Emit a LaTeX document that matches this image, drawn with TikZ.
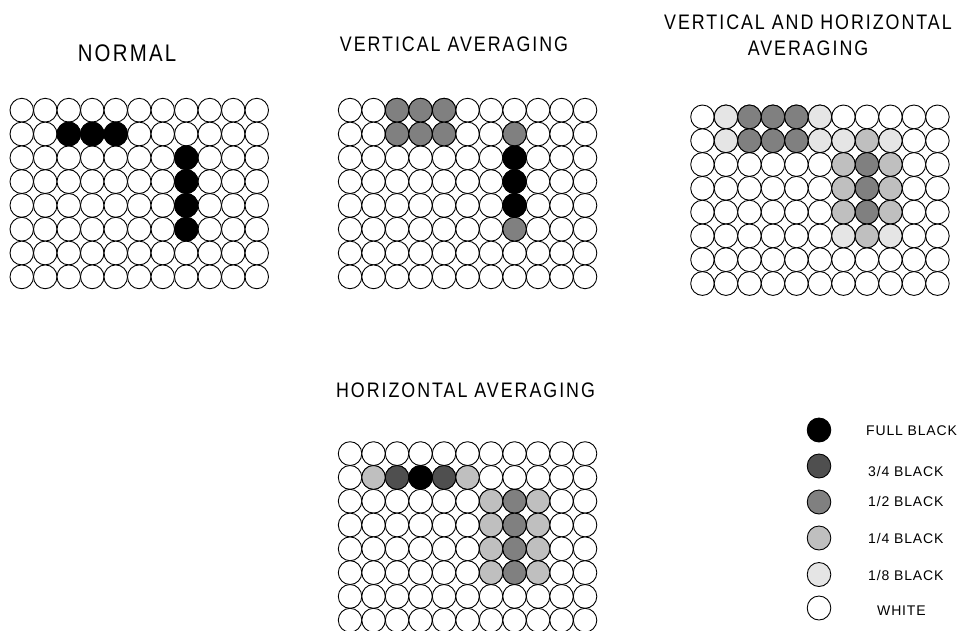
\documentclass[tikz,border=0pt]{standalone}
\usepackage{graphicx}
\usepackage{fontspec}
\setmainfont{Liberation Sans}
\newfontfamily\ttlfont[LetterSpace=11]{Liberation Sans}
\newfontfamily\lgdfont[LetterSpace=6]{Liberation Sans}
\definecolor{bfull}{gray}{0}
\definecolor{bthree}{gray}{0.31}
\definecolor{bhalf}{gray}{0.5}
\definecolor{bquart}{gray}{0.75}
\definecolor{beighth}{gray}{0.9}
\newcommand\condtext[1]{\scalebox{0.85}[1]{#1}}
\tikzset{
  cell/.style={draw=black, line width=0.9pt, fill=white},
  ttl/.style={inner sep=0pt, anchor=base, font=\ttlfont\fontsize{21}{25}\selectfont},
  lgd/.style={inner sep=0pt, anchor=base west, font=\lgdfont\fontsize{14}{17}\selectfont},
}
\newcommand\mydotgrid[2]{%
  \foreach \r in {0,...,7} \foreach \c in {0,...,10}
    \draw[cell] ({#1+(\c+0.5)*23.5},{#2+(\r+0.5)*23.8}) ellipse [x radius=11.75, y radius=11.9];}
\newcommand\myshadedots[3]{%
  \foreach \r/\c/\f in {#3}
    \draw[cell, fill=\f] ({#1+(\c+0.5)*23.5},{#2+(\r+0.5)*23.8}) ellipse [x radius=11.75, y radius=11.9];}
\begin{document}
\begin{tikzpicture}[x=1pt,y=-1pt]
\useasboundingbox (0,0) rectangle (960,630);
\clip (0,0) rectangle (960,630);

% titles
\node[ttl, font=\ttlfont\fontsize{24}{28}\selectfont] (tnormal) at (127,61) {\condtext{NORMAL}};
\node[ttl] (tvert) at (454,51.5) {\condtext{VERTICAL AVERAGING}};
\node[ttl] (tvh1) at (808,29) {\condtext{VERTICAL AND HORIZONTAL}};
\node[ttl] (tvh2) at (808,55) {\condtext{AVERAGING}};
\node[ttl] (thor) at (465.5,397) {\condtext{HORIZONTAL AVERAGING}};

% NORMAL grid
\mydotgrid{10}{98.3}
\myshadedots{10}{98.3}{1/2/bfull,1/3/bfull,1/4/bfull,2/7/bfull,3/7/bfull,4/7/bfull,5/7/bfull}

% VERTICAL AVERAGING grid
\mydotgrid{338.3}{98.3}
\myshadedots{338.3}{98.3}{0/2/bhalf,0/3/bhalf,0/4/bhalf,1/2/bhalf,1/3/bhalf,1/4/bhalf,1/7/bhalf,2/7/bfull,3/7/bfull,4/7/bfull,5/7/bhalf}

% VERTICAL AND HORIZONTAL AVERAGING grid
\mydotgrid{690.7}{105}
\myshadedots{690.7}{105}{0/1/beighth,0/2/bhalf,0/3/bhalf,0/4/bhalf,0/5/beighth,
  1/1/beighth,1/2/bhalf,1/3/bhalf,1/4/bhalf,1/5/beighth,1/6/beighth,1/7/bquart,1/8/beighth,
  2/6/bquart,2/7/bhalf,2/8/bquart,3/6/bquart,3/7/bhalf,3/8/bquart,4/6/bquart,4/7/bhalf,4/8/bquart,
  5/6/beighth,5/7/bquart,5/8/beighth}

% HORIZONTAL AVERAGING grid
\mydotgrid{338.3}{441.7}
\myshadedots{338.3}{441.7}{1/1/bquart,1/2/bthree,1/3/bfull,1/4/bthree,1/5/bquart,
  2/6/bquart,2/7/bhalf,2/8/bquart,3/6/bquart,3/7/bhalf,3/8/bquart,4/6/bquart,4/7/bhalf,4/8/bquart,
  5/6/bquart,5/7/bhalf,5/8/bquart}

% legend
\foreach \y/\f in {430/bfull,466/bthree,502/bhalf,538/bquart,574.5/beighth,608/white}
  \draw[cell, fill=\f] (819,\y) ellipse [x radius=11.8, y radius=12];
\node[lgd] (tfull) at (866,435) {FULL BLACK};
\node[lgd] (tthree) at (868,476) {3/4 BLACK};
\node[lgd] (thalf) at (868,506.7) {1/2 BLACK};
\node[lgd] (tquart) at (868,543.3) {1/4 BLACK};
\node[lgd] (teighth) at (868,580) {1/8 BLACK};
\node[lgd] (twhite) at (877,615) {WHITE};
\end{tikzpicture}
\end{document}
